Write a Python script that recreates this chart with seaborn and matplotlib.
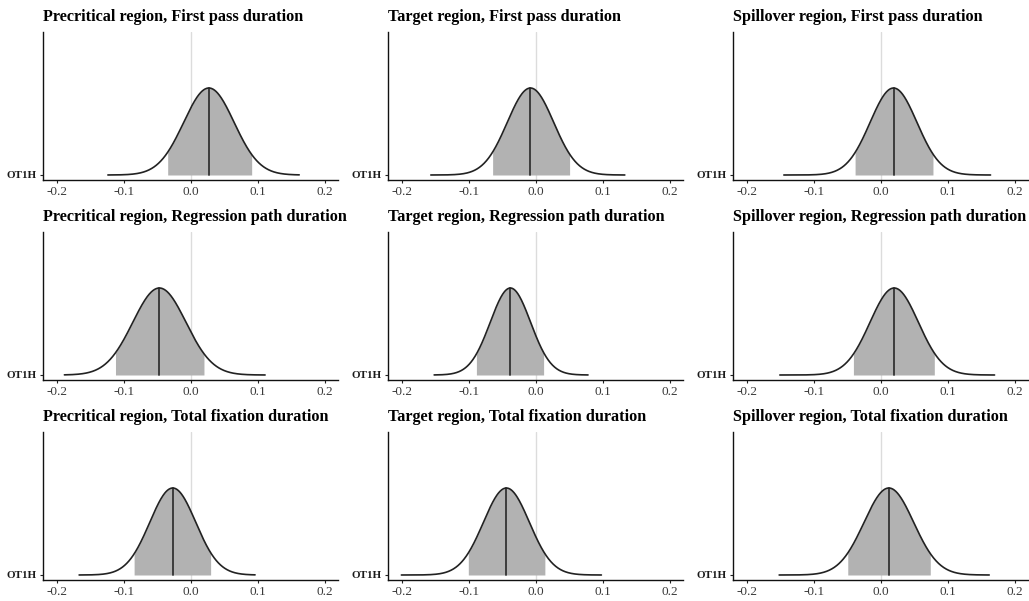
import numpy as np
import seaborn as sns
import matplotlib
matplotlib.use("Agg")
import matplotlib.pyplot as plt

# panel labels
regions = ["Precritical", "Target", "Spillover"]
measures = ["First pass duration", "Regression path duration", "Total fixation duration"]
param = "OT1H"

# posterior summaries, rows = measure, cols = region
medians = [[0.027, -0.008, 0.019],
           [-0.047, -0.038, 0.020],
           [-0.027, -0.044, 0.012]]
int_lo = [[-0.035, -0.065, -0.039],
          [-0.113, -0.089, -0.041],
          [-0.085, -0.101, -0.050]]
int_hi = [[0.091, 0.051, 0.078],
          [0.020, 0.012, 0.080],
          [0.030, 0.014, 0.074]]
draw_min = [[-0.124, -0.157, -0.145],
            [-0.189, -0.152, -0.151],
            [-0.167, -0.201, -0.152]]
draw_max = [[0.162, 0.133, 0.164],
            [0.111, 0.078, 0.170],
            [0.096, 0.098, 0.162]]

xticks = [-0.2, -0.1, 0.0, 0.1, 0.2]
xticklabels = ["-0.2", "-0.1", "0.0", "0.1", "0.2"]

sns.set_theme(style="ticks")
plt.rcParams['font.family'] = ['Liberation Serif', 'DejaVu Serif']

fig = plt.figure(figsize=(10.29, 6.01), dpi=100)

lefts = [43, 388, 733]
bottoms = [180, 380, 580]
W, H = 295, 148

for r in range(3):
    for c in range(3):
        ax = fig.add_axes([lefts[c] / 1029, 1 - bottoms[r] / 601, W / 1029, H / 601])
        med = medians[r][c]
        lo, hi = int_lo[r][c], int_hi[r][c]
        sd = (hi - lo) / 3.35
        x = np.linspace(draw_min[r][c], draw_max[r][c], 500)
        dens = np.exp(-0.5 * ((x - med) / sd) ** 2)

        ax.axvline(0, color="#dcdcdc", lw=1.0, zorder=0)
        inside = (x >= lo) & (x <= hi)
        ax.fill_between(x[inside], 0, dens[inside], color="#b2b2b2", lw=0, zorder=1)
        sns.lineplot(x=x, y=dens, ax=ax, color="#222222", lw=1.2, zorder=3)
        ax.plot([med, med], [0, 1.0], color="#333333", lw=1.3, zorder=2)

        ax.set_xlim(-0.221, 0.22)
        ax.set_ylim(-0.0575, 1.644)
        ax.set_xticks(xticks)
        ax.set_xticklabels(xticklabels, fontsize=9.5, color="#3a3a3a")
        ax.set_yticks([0])
        ax.set_yticklabels([param], fontsize=8.0, fontweight="bold", color="#1a1a1a")
        ax.tick_params(axis="both", length=2.5, width=0.8, pad=2, color="#222222")
        for s in ["top", "right"]:
            ax.spines[s].set_visible(False)
        for s in ["left", "bottom"]:
            ax.spines[s].set_linewidth(1.0)
            ax.spines[s].set_color("#111111")
        ax.set_xlabel("")
        ax.set_ylabel("")
        ax.set_title(f"{regions[c]} region, {measures[r]}", loc="left",
                     fontsize=11.7, fontweight="bold", color="black", pad=8)

fig.savefig("out.png", dpi=100)
